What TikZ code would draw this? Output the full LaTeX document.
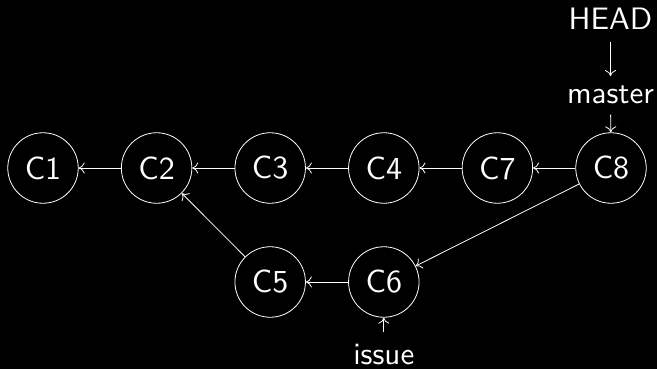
\documentclass[tikz,border=0pt]{standalone}
\usetikzlibrary{arrows.meta}
\newcommand\ctxt[1]{\scalebox{3.2}{#1}}
\newcommand\ltxt[1]{\scalebox{3.1}{#1}}
\begin{document}
\begin{tikzpicture}[x=1pt,y=-1pt,
  commit/.style={circle,draw=white,line width=0.8pt,minimum size=70.5pt,inner sep=0pt,text=white,font=\sffamily\fontsize{10}{12}\selectfont},
  lbl/.style={text=white,font=\sffamily\fontsize{10}{12}\selectfont,inner sep=10pt,anchor=base},
  link/.style={draw=white,line width=0.8pt,-{To[length=6pt,width=11pt]}}]
\fill[black] (0,0) rectangle (657,369);
\useasboundingbox (0,0) rectangle (657,369);
\node[commit] (C1) at (43,168) {\ctxt{C1}};
\node[commit] (C2) at (156.6,168) {\ctxt{C2}};
\node[commit] (C3) at (270.2,168) {\ctxt{C3}};
\node[commit] (C4) at (383.8,168) {\ctxt{C4}};
\node[commit] (C7) at (497.4,168) {\ctxt{C7}};
\node[commit] (C8) at (611,168) {\ctxt{C8}};
\node[commit] (C5) at (270.2,282) {\ctxt{C5}};
\node[commit] (C6) at (383.8,282) {\ctxt{C6}};
\node[lbl] (HEAD) at (610.5,29.3) {\ltxt{HEAD}};
\node[lbl] (master) at (610.5,104) {\ltxt{master}};
\node[lbl] (issue) at (383.8,364.3) {\ltxt{issue}};
\draw[link] (C2) -- (C1);
\draw[link] (C3) -- (C2);
\draw[link] (C4) -- (C3);
\draw[link] (C7) -- (C4);
\draw[link] (C8) -- (C7);
\draw[link] (C8) -- (C6);
\draw[link] (C6) -- (C5);
\draw[link] (C5) -- (C2);
\draw[link,shorten <=3pt] (HEAD) -- (master);
\draw[link] (master) -- (C8);
\draw[link,shorten <=2pt] (issue) -- (C6);
\end{tikzpicture}
\end{document}
